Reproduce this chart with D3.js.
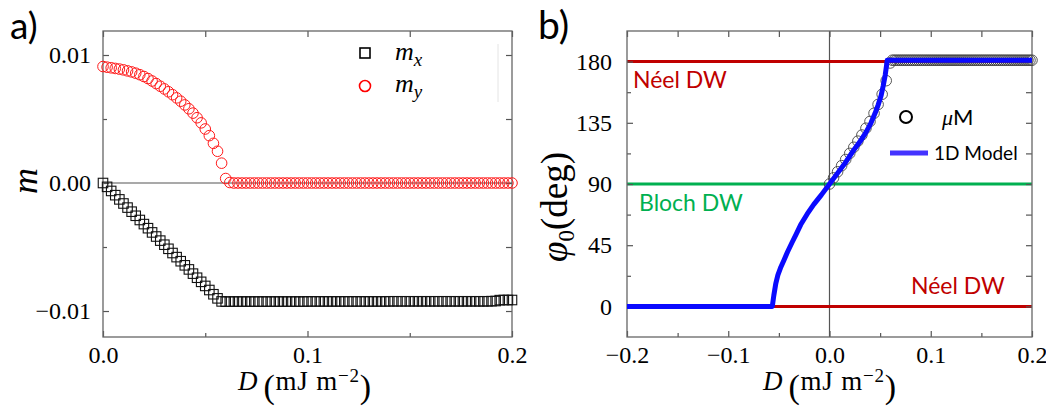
<!DOCTYPE html>
<html><head><meta charset="utf-8">
<script src="https://cdn.jsdelivr.net/npm/d3@7"></script>
<style>
html,body{margin:0;padding:0;background:#fff;}
svg{display:block;}
.tick text{font-family:"Liberation Serif","Times New Roman",serif;font-size:24px;fill:#000;}
</style></head>
<body>
<svg id="c" width="1046" height="415"></svg>
<script>
// ---------- DATA ----------
// D grid (mJ m^-2) for micromagnetic points of panel a
const dGrid = [
0.000,0.002,0.004,0.006,0.008,0.010,0.012,0.014,0.016,0.018,
0.020,0.022,0.024,0.026,0.028,0.030,0.032,0.034,0.036,0.038,
0.040,0.042,0.044,0.046,0.048,0.050,0.052,0.054,0.056,0.058,
0.060,0.062,0.064,0.066,0.068,0.070,0.072,0.074,0.076,0.078,
0.080,0.082,0.084,0.086,0.088,0.090,0.092,0.094,0.096,0.098,
0.100,0.102,0.104,0.106,0.108,0.110,0.112,0.114,0.116,0.118,
0.120,0.122,0.124,0.126,0.128,0.130,0.132,0.134,0.136,0.138,
0.140,0.142,0.144,0.146,0.148,0.150,0.152,0.154,0.156,0.158,
0.160,0.162,0.164,0.166,0.168,0.170,0.172,0.174,0.176,0.178,
0.180,0.182,0.184,0.186,0.188,0.190,0.192,0.194,0.196,0.198,
0.200];
// panel a: m_x (squares)
const mxValues = [
0,-0.00030,-0.00062,-0.00095,-0.00128,-0.00160,-0.00192,-0.00224,-0.00256,-0.00289,
-0.00321,-0.00353,-0.00386,-0.00418,-0.00450,-0.00482,-0.00514,-0.00547,-0.00579,-0.00611,
-0.00643,-0.00675,-0.00708,-0.00740,-0.00772,-0.00804,-0.00836,-0.00869,-0.00901,-0.00925,
-0.00927,-0.00926,-0.00926,-0.00926,-0.00926,-0.00926,-0.00926,-0.00926,-0.00926,-0.00926,
-0.00926,-0.00926,-0.00926,-0.00926,-0.00926,-0.00926,-0.00926,-0.00926,-0.00926,-0.00926,
-0.00925,-0.00925,-0.00925,-0.00925,-0.00925,-0.00925,-0.00925,-0.00925,-0.00925,-0.00925,
-0.00925,-0.00925,-0.00925,-0.00925,-0.00925,-0.00925,-0.00925,-0.00925,-0.00925,-0.00925,
-0.00924,-0.00924,-0.00924,-0.00924,-0.00924,-0.00924,-0.00924,-0.00924,-0.00924,-0.00924,
-0.00924,-0.00924,-0.00924,-0.00924,-0.00924,-0.00924,-0.00924,-0.00924,-0.00924,-0.00924,
-0.00924,-0.00924,-0.00924,-0.00924,-0.00924,-0.00923,-0.00922,-0.00915,-0.00914,-0.00914,
-0.00914];
// panel a: m_y (circles)
const myValues = [
0.00910,0.00905,0.00900,0.00895,0.00890,0.00884,0.00876,0.00868,0.00858,0.00846,
0.00832,0.00816,0.00797,0.00777,0.00756,0.00735,0.00713,0.00690,0.00665,0.00639,
0.00610,0.00580,0.00546,0.00510,0.00470,0.00422,0.00370,0.00310,0.00248,0.00155,
0.00035,0.00004,0,0,0,0,0,0,0,0,
0,0,0,0,0,0,0,0,0,0,
0,0,0,0,0,0,0,0,0,0,
0,0,0,0,0,0,0,0,0,0,
0,0,0,0,0,0,0,0,0,0,
0,0,0,0,0,0,0,0,0,0,
0,0,0,0,0,0,0,0,0,0,
0];
// panel b: micromagnetic points (D, phi0 in deg)
const dMicro = [
0.000,0.004,0.008,0.012,0.016,0.020,0.024,0.028,0.032,0.036,
0.040,0.044,0.048,0.052,0.056,0.060,
0.062,0.064,0.066,0.068,0.070,0.072,0.074,0.076,0.078,
0.080,0.082,0.084,0.086,0.088,0.090,0.092,0.094,0.096,0.098,
0.100,0.102,0.104,0.106,0.108,0.110,0.112,0.114,0.116,0.118,
0.120,0.122,0.124,0.126,0.128,0.130,0.132,0.134,0.136,0.138,
0.140,0.142,0.144,0.146,0.148,0.150,0.152,0.154,0.156,0.158,
0.160,0.162,0.164,0.166,0.168,0.170,0.172,0.174,0.176,0.178,
0.180,0.182,0.184,0.186,0.188,0.190,0.192,0.194,0.196,0.198,
0.200];
const phiMicro = [
90,94.5,99,103.5,108,112.5,117,121.5,126,131,
136,142,148.5,156,166,179,
181,181,181,181,181,181,181,181,181,
181,181,181,181,181,181,181,181,181,181,
181,181,181,181,181,181,181,181,181,181,
181,181,181,181,181,181,181,181,181,181,
181,181,181,181,181,181,181,181,181,181,
181,181,181,181,181,181,181,181,181,181,
181,181,181,181,181,181,181,181,181,181,
181];
// panel b: 1D model
const dModel = [-0.2,-0.0565,-0.055,-0.053,-0.051,-0.048,-0.045,-0.0415,-0.037,-0.033,
-0.0285,-0.022,-0.0155,-0.008,0,0.008,0.016,0.024,0.030,0.036,
0.041,0.045,0.048,0.051,0.053,0.055,0.0565,0.057,0.2];
const phiModel = [0,0,8,17,23,29,34,40,47,53,
60,68,75,82,90,98,106,115,121,128,
135,142,148,155,162,170,178,181,181];
// reference lines
const refLines = [
  {phi:180, label:"Néel DW", color:"#c00000"},
  {phi:90, label:"Bloch DW", color:"#00b050"},
  {phi:0, label:"Néel DW", color:"#c00000"}];
// ticks
const aXMajor = [0, 0.1, 0.2], aXMinor = [0.05, 0.15];
const aYMajor = [-0.01, 0, 0.01], aYMinor = [-0.005, 0.005];
const bXMajor = [-0.2, -0.1, 0, 0.1, 0.2], bXMinor = [-0.15, -0.05, 0.05, 0.15];
const bYMajor = [0, 45, 90, 135, 180], bYMinor = [22.5, 67.5, 112.5, 157.5];

// ---------- DRAW ----------
const svg = d3.select("#c");
const minus = s => s.replace("-", "\u2212");

function frame(g, x, y, xMaj, xMin, yMaj, yMin, xFmt, yFmt, yPad) {
  const [x0, x1] = x.range(), [y0, y1] = y.range();
  const maj = 6, mnr = 4;
  g.append("g").attr("transform", `translate(0,${y0})`)
    .call(d3.axisBottom(x).tickValues(xMaj).tickSize(-maj).tickPadding(9).tickFormat(xFmt));
  g.append("g").attr("transform", `translate(0,${y0})`)
    .call(d3.axisBottom(x).tickValues(xMin).tickSize(-mnr).tickFormat(""));
  g.append("g").attr("transform", `translate(0,${y1})`)
    .call(d3.axisTop(x).tickValues(xMaj.concat(xMin)).tickSize(-maj).tickFormat(""));
  g.append("g").attr("transform", `translate(${x0},0)`)
    .call(d3.axisLeft(y).tickValues(yMaj).tickSize(-maj).tickPadding(yPad).tickFormat(yFmt));
  g.append("g").attr("transform", `translate(${x0},0)`)
    .call(d3.axisLeft(y).tickValues(yMin).tickSize(-mnr).tickFormat(""));
  g.append("g").attr("transform", `translate(${x1},0)`)
    .call(d3.axisRight(y).tickValues(yMaj.concat(yMin)).tickSize(-maj).tickFormat(""));
  g.selectAll(".domain").remove();
  g.selectAll(".tick line").attr("stroke", "#555").attr("stroke-width", 1.2);
  g.append("rect").attr("x", x0).attr("y", y1).attr("width", x1 - x0).attr("height", y0 - y1)
    .attr("fill", "none").attr("stroke", "#666").attr("stroke-width", 1.3);
}

function xLabel(g, cx, y) {
  const t = g.append("text").attr("x", cx).attr("y", y).attr("text-anchor", "middle")
    .attr("font-family", "Liberation Serif, serif").attr("font-size", 27).attr("letter-spacing", 0.8);
  t.append("tspan").attr("font-style", "italic").text("D");
  t.append("tspan").attr("font-size", 34).attr("dx", 5).attr("dy", 8).text("(");
  t.append("tspan").attr("dy", -8).text("mJ m");
  t.append("tspan").attr("font-size", 19).attr("dy", -8).text("\u22122");
  t.append("tspan").attr("font-size", 34).attr("dy", 16).text(")");
}

// ===== Panel a =====
const ga = svg.append("g");
const xa = d3.scaleLinear().domain([0, 0.2]).range([103, 512]);
const ya = d3.scaleLinear().domain([-0.01203, 0.011875]).range([337, 31]);

ga.append("line").attr("x1", xa(0)).attr("x2", xa(0.2)).attr("y1", ya(0)).attr("y2", ya(0))
  .attr("stroke", "#555").attr("stroke-width", 1.2);

frame(ga, xa, ya, aXMajor, aXMinor, aYMajor, aYMinor,
  d => d3.format(".1f")(d), d => minus(d3.format(".2f")(d)), 12);

const sq = 9.5;
ga.append("g").selectAll("rect").data(dGrid).join("rect")
  .attr("x", (d, i) => xa(d) - sq / 2).attr("y", (d, i) => ya(mxValues[i]) - sq / 2)
  .attr("width", sq).attr("height", sq).attr("fill", "none")
  .attr("stroke", "#111").attr("stroke-width", 1.1);
ga.append("g").selectAll("circle").data(dGrid).join("circle")
  .attr("cx", d => xa(d)).attr("cy", (d, i) => ya(myValues[i])).attr("r", 5.3)
  .attr("fill", "none").attr("stroke", "#ff1a1a").attr("stroke-width", 1);

// legend a
ga.append("rect").attr("x", 360).attr("y", 48).attr("width", 10).attr("height", 10)
  .attr("fill", "none").attr("stroke", "#000").attr("stroke-width", 1.6);
ga.append("circle").attr("cx", 365).attr("cy", 86).attr("r", 5.5)
  .attr("fill", "none").attr("stroke", "#ff0000").attr("stroke-width", 1.6);
[["x", 60], ["y", 92]].forEach(([s, yb]) => {
  const t = ga.append("text").attr("x", 395).attr("y", yb)
    .attr("font-family", "Liberation Serif, serif").attr("font-style", "italic").attr("font-size", 26);
  t.append("tspan").text("m");
  t.append("tspan").attr("font-size", 19).attr("dy", 6).text(s);
});
ga.append("line").attr("x1", 498).attr("x2", 498).attr("y1", 44).attr("y2", 102)
  .attr("stroke", "#e4e4e4").attr("stroke-width", 1);

// labels a
xLabel(ga, 305, 390);
ga.append("text").attr("transform", "translate(37,181) rotate(-90)").attr("text-anchor", "middle")
  .attr("font-family", "Liberation Serif, serif").attr("font-style", "italic").attr("font-size", 36).text("m");
ga.append("text").attr("x", 10).attr("y", 39).attr("font-family", "Lato, sans-serif")
  .attr("font-size", 37).text("a)");

// ===== Panel b =====
const gb = svg.append("g");
const xb = d3.scaleLinear().domain([-0.2, 0.2]).range([627, 1032]);
const yb = d3.scaleLinear().domain([-22.5, 202.5]).range([337, 31]);

gb.append("line").attr("x1", xb(0)).attr("x2", xb(0)).attr("y1", yb(-22.5)).attr("y2", yb(202.5))
  .attr("stroke", "#555").attr("stroke-width", 1.2);

gb.append("g").selectAll("line").data(refLines).join("line")
  .attr("x1", xb(-0.2)).attr("x2", xb(0.2)).attr("y1", d => yb(d.phi)).attr("y2", d => yb(d.phi))
  .attr("stroke", d => d.color).attr("stroke-width", 3);

frame(gb, xb, yb, bXMajor, bXMinor, bYMajor, bYMinor,
  d => minus(d3.format(".1f")(d)), d => d3.format("d")(d), 15);

gb.append("g").selectAll("circle").data(dMicro).join("circle")
  .attr("cx", d => xb(d)).attr("cy", (d, i) => yb(phiMicro[i])).attr("r", 5.3)
  .attr("fill", "none").attr("stroke", "#444").attr("stroke-width", 0.9);

const modelPts = dModel.map((d, i) => [d, phiModel[i]]);
gb.append("path").datum(modelPts)
  .attr("d", d3.line().x(d => xb(d[0])).y(d => yb(d[1])))
  .attr("fill", "none").attr("stroke", "#0a0aff").attr("stroke-width", 5).attr("stroke-linejoin", "round");

// DW labels
const lblFont = "Lato, 'Open Sans', sans-serif";
gb.append("text").attr("x", 633).attr("y", 88).attr("fill", "#c00000").attr("font-family", lblFont)
  .attr("font-size", 23).text(refLines[0].label);
gb.append("text").attr("x", 639).attr("y", 211).attr("fill", "#00b050").attr("font-family", lblFont)
  .attr("font-size", 23).text(refLines[1].label);
gb.append("text").attr("x", 911).attr("y", 294).attr("fill", "#c00000").attr("font-family", lblFont)
  .attr("font-size", 23).text(refLines[2].label);

// legend b
gb.append("circle").attr("cx", 906).attr("cy", 117).attr("r", 6)
  .attr("fill", "none").attr("stroke", "#000").attr("stroke-width", 2);
const tm = gb.append("text").attr("x", 942).attr("y", 125).attr("font-size", 22);
tm.append("tspan").attr("font-family", "Liberation Serif, serif").attr("font-style", "italic").text("\u03bc");
tm.append("tspan").attr("font-family", lblFont).text("M");
gb.append("line").attr("x1", 890).attr("x2", 928).attr("y1", 153).attr("y2", 153)
  .attr("stroke", "#4433ff").attr("stroke-width", 5);
gb.append("text").attr("x", 934).attr("y", 160).attr("font-family", lblFont).attr("font-size", 19)
  .text("1D Model");

// labels b
xLabel(gb, 830, 390);
const ty = gb.append("text").attr("transform", "translate(567,207) rotate(-90)").attr("text-anchor", "middle")
  .attr("font-family", "Liberation Serif, serif").attr("font-size", 37);
ty.append("tspan").attr("font-style", "italic").text("\u03c6");
ty.append("tspan").attr("font-size", 23).attr("dy", 7).text("0");
ty.append("tspan").attr("dy", -7).text("(deg)");
gb.append("text").attr("x", 538).attr("y", 39).attr("font-family", "Lato, sans-serif")
  .attr("font-size", 39).text("b)");
</script>
</body></html>
